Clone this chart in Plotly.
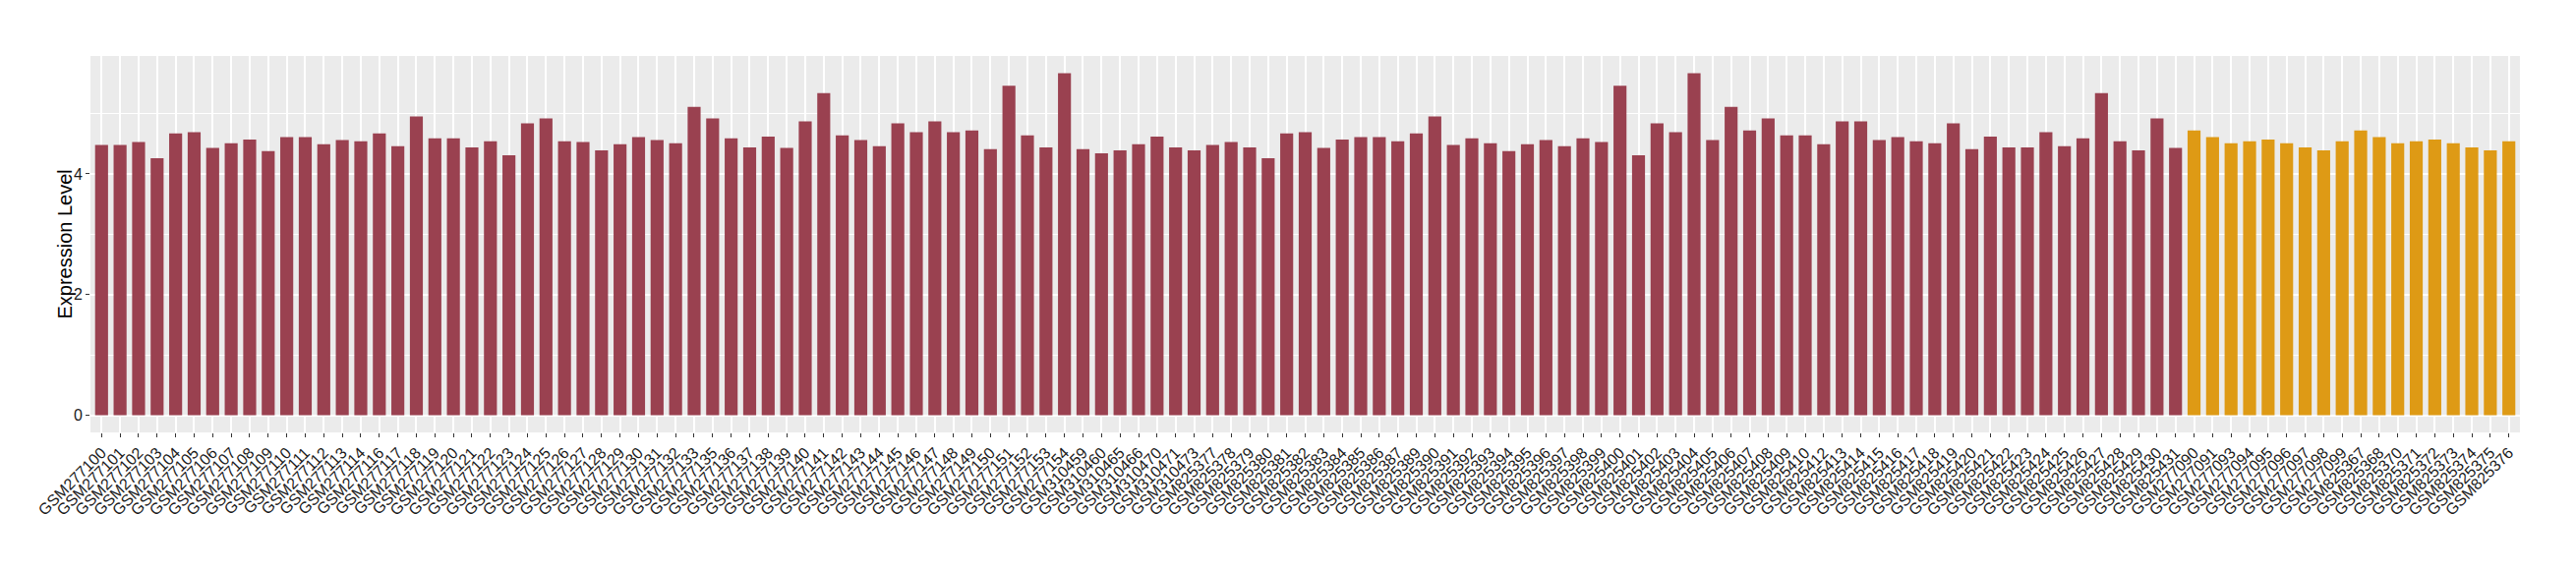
"""Expression level per sample, two groups of GEO samples."""

import plotly.graph_objects as go

# group 1 (dark red)
group1_samples = (
    ["GSM2771%02d" % n for n in list(range(0, 15)) + list(range(16, 34)) + list(range(35, 55))]
    + ["GSM310459", "GSM310460", "GSM310465", "GSM310466", "GSM310470", "GSM310471", "GSM310473"]
    + ["GSM825%d" % n for n in list(range(377, 388)) + list(range(389, 411)) + list(range(412, 432))]
)
group1_values = [
    4.48, 4.48, 4.53, 4.26, 4.67, 4.69, 4.43, 4.51, 4.57, 4.38,
    4.61, 4.61, 4.49, 4.56, 4.54, 4.67, 4.46, 4.95, 4.59, 4.59,
    4.44, 4.54, 4.31, 4.84, 4.92, 4.54, 4.53, 4.39, 4.49, 4.61,
    4.56, 4.51, 5.11, 4.92, 4.59, 4.44, 4.62, 4.43, 4.87, 5.34,
    4.64, 4.56, 4.46, 4.84, 4.69, 4.87, 4.69, 4.72, 4.41, 5.46,
    4.64, 4.44, 5.67, 4.41, 4.34, 4.39, 4.49, 4.62, 4.44, 4.39,
    4.48, 4.53, 4.44, 4.26, 4.67, 4.69, 4.43, 4.57, 4.61, 4.61,
    4.54, 4.67, 4.95, 4.48, 4.59, 4.51, 4.38, 4.49, 4.56, 4.46,
    4.59, 4.53, 5.46, 4.31, 4.84, 4.69, 5.67, 4.56, 5.11, 4.72,
    4.92, 4.64, 4.64, 4.49, 4.87, 4.87, 4.56, 4.61, 4.54, 4.51,
    4.84, 4.41, 4.62, 4.44, 4.44, 4.69, 4.46, 4.59, 5.34, 4.54,
    4.39, 4.92, 4.43,
]

# group 2 (orange)
group2_samples = (
    ["GSM277090", "GSM277091", "GSM277093", "GSM277094", "GSM277095",
     "GSM277096", "GSM277097", "GSM277098", "GSM277099"]
    + ["GSM825367", "GSM825368", "GSM825370", "GSM825371", "GSM825372",
       "GSM825373", "GSM825374", "GSM825375", "GSM825376"]
)
group2_values = [
    4.72, 4.61, 4.51, 4.54, 4.57, 4.51, 4.44, 4.39, 4.54,
    4.72, 4.61, 4.51, 4.54, 4.57, 4.51, 4.44, 4.39, 4.54,
]

y_ticks = [0, 2, 4]

all_samples = group1_samples + group2_samples
font = "Liberation Sans, Arial, sans-serif"

fig = go.Figure()
fig.add_trace(go.Bar(x=group1_samples, y=group1_values, marker_color="#9A4150",
                     marker_line_width=0, name="group 1"))
fig.add_trace(go.Bar(x=group2_samples, y=group2_values, marker_color="#DE9A15",
                     marker_line_width=0, name="group 2"))

# page body has an 8px margin, so the figure is 16px smaller than the window
fig.update_layout(
    width=2604,
    height=564,
    barmode="overlay",
    bargap=0.3,
    showlegend=False,
    plot_bgcolor="#EBEBEB",
    paper_bgcolor="white",
    margin=dict(l=84, r=49, t=49, b=132, autoexpand=False),
    font=dict(family=font, color="#1A1A1A"),
    annotations=[dict(
        text="Expression Level", textangle=-90, xref="paper", yref="paper",
        x=0, y=0.5, xanchor="center", yanchor="middle", xshift=-27,
        showarrow=False, font=dict(size=20, color="black", family=font),
    )],
)
fig.update_xaxes(
    type="category",
    categoryorder="array",
    categoryarray=all_samples,
    tickmode="array",
    tickvals=all_samples,
    range=[-0.6, len(all_samples) - 0.4],
    tickangle=-45,
    tickfont=dict(size=16, color="#1A1A1A"),
    ticks="outside",
    ticklen=4,
    tickcolor="#333333",
    showgrid=True,
    gridcolor="white",
    gridwidth=1.5,
    showline=False,
    zeroline=False,
    automargin=False,
)
fig.update_yaxes(
    range=[-0.2835, 5.9535],
    tickvals=y_ticks,
    tickfont=dict(size=16, color="#1A1A1A"),
    ticks="outside",
    ticklen=4,
    tickcolor="#333333",
    showgrid=True,
    gridcolor="white",
    gridwidth=1.5,
    minor=dict(tickvals=[1, 3, 5], showgrid=True, gridcolor="white", gridwidth=0.75, ticks=""),
    zeroline=False,
    showline=False,
    automargin=False,
)

fig.write_html("out.html")
